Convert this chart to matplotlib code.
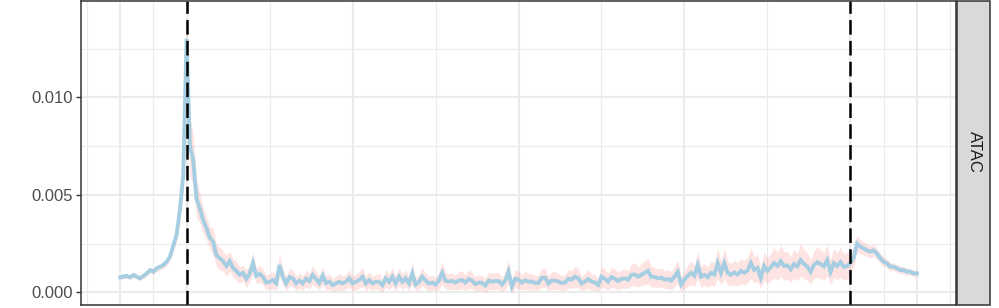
import numpy as np
import matplotlib
matplotlib.use("Agg")
import matplotlib.pyplot as plt
from matplotlib.patches import Rectangle

# ---- data (signal in units of 1e-5, one value per bin; 20 upstream bins, 200 gene-body bins, 20 downstream bins)
signal_e5 = [
    77, 82, 84, 77, 89, 80, 72, 84, 97, 114, 106, 123, 131, 140, 157, 183, 240, 295, 425, 600,
    1300, 750, 680, 480, 430, 370, 330, 280, 260, 190, 175, 160, 135, 160, 125, 110, 90, 100, 70, 95,
    150, 85, 95, 80, 50, 54, 63, 46, 140, 80, 46, 78, 72, 46, 60, 46, 70, 58, 89, 68,
    48, 85, 48, 54, 37, 46, 54, 46, 54, 72, 46, 54, 63, 80, 46, 63, 46, 54, 54, 37,
    72, 54, 80, 46, 80, 54, 72, 46, 97, 40, 54, 80, 60, 45, 50, 40, 60, 100, 60, 55,
    58, 50, 60, 63, 50, 68, 60, 42, 50, 48, 35, 60, 55, 58, 58, 40, 60, 106, 29, 70,
    65, 50, 62, 55, 55, 48, 48, 75, 75, 45, 60, 60, 55, 48, 50, 70, 65, 80, 72, 45,
    55, 68, 55, 50, 38, 80, 70, 55, 78, 70, 58, 68, 72, 65, 90, 92, 80, 90, 100, 110,
    80, 78, 72, 75, 65, 68, 60, 80, 105, 40, 65, 85, 100, 85, 140, 80, 90, 78, 100, 92,
    150, 100, 150, 100, 90, 102, 92, 110, 100, 112, 150, 115, 125, 75, 135, 110, 128, 150, 135, 160,
    135, 138, 118, 145, 133, 165, 145, 132, 105, 140, 155, 145, 133, 165, 105, 150, 135, 155, 130, 135,
    150, 180, 250, 234, 225, 215, 208, 215, 198, 174, 157, 149, 131, 131, 123, 114, 114, 106, 106, 97, 97,
]
spread_e5 = [
    10, 12, 13, 11, 14, 12, 11, 13, 15, 14, 15, 16, 15, 17, 18, 20, 25, 35, 50, 80,
    120, 150, 130, 95, 75, 65, 60, 55, 70, 55, 60, 50, 55, 52, 45, 50, 42, 40, 45, 42,
    55, 38, 45, 40, 38, 40, 45, 36, 60, 40, 36, 45, 42, 35, 40, 36, 42, 38, 48, 40,
    36, 45, 38, 40, 32, 38, 42, 38, 36, 45, 38, 40, 42, 48, 36, 40, 38, 36, 42, 34,
    45, 40, 48, 36, 45, 40, 42, 36, 55, 34, 40, 45, 42, 36, 38, 34, 42, 58, 42, 40,
    42, 38, 45, 45, 40, 48, 42, 36, 40, 38, 34, 45, 42, 45, 42, 36, 45, 60, 32, 45,
    45, 40, 45, 42, 42, 38, 38, 50, 50, 36, 45, 45, 42, 38, 40, 48, 45, 54, 50, 36,
    42, 48, 42, 40, 34, 52, 48, 42, 52, 48, 45, 48, 50, 45, 56, 60, 52, 56, 62, 66,
    52, 50, 48, 50, 45, 48, 45, 52, 62, 38, 45, 54, 60, 54, 72, 52, 56, 52, 62, 60,
    78, 62, 78, 62, 56, 62, 60, 66, 62, 66, 78, 66, 70, 52, 72, 66, 70, 78, 72, 82,
    72, 72, 66, 75, 70, 82, 75, 70, 62, 72, 78, 75, 70, 82, 62, 75, 70, 78, 66, 70,
    55, 48, 40, 36, 34, 32, 30, 32, 28, 26, 24, 22, 21, 20, 19, 19, 18, 18, 17, 16, 15,
]
marker_bins = [20, 220]          # TSS and TES
major_x = [0, 20, 70, 120, 170, 220, 240]
minor_x = [-10, 10, 45, 95, 145, 195, 230, 250]
major_y = [0.0, 0.005, 0.010]
minor_y = [0.0025, 0.0075, 0.0125]
y_labels = ["0.000", "0.005", "0.010"]
facet_label = "ATAC"

plt.rcParams['font.family'] = ['Liberation Sans', 'DejaVu Sans']
plt.rcParams['lines.scale_dashes'] = False

W, H = 999, 308
fig = plt.figure(figsize=(W / 100, H / 100), dpi=100)
ax = fig.add_axes([81 / W, 3 / H, (956 - 81) / W, (307 - 3) / H])

x = np.arange(len(signal_e5))
y = np.array(signal_e5) * 1e-5
s = np.array(spread_e5) * 1e-5

grid_c = '#EBEBEB'
for gx in minor_x:
    ax.axvline(gx, color=grid_c, lw=0.8, zorder=0)
for gy in minor_y:
    ax.axhline(gy, color=grid_c, lw=0.8, zorder=0)
for gx in major_x:
    ax.axvline(gx, color=grid_c, lw=1.5, zorder=0)
for gy in major_y:
    ax.axhline(gy, color=grid_c, lw=1.5, zorder=0)

ax.fill_between(x, y - s, y + s, color='#F8766D', alpha=0.2, lw=0, zorder=1)
ax.plot(x, y, color='#A6CEE3', lw=2.8, zorder=2, solid_joinstyle='miter')

for m in marker_bins:
    ax.axvline(m, color='black', lw=1.8, linestyle=(0, (10.5, 4.5)), zorder=3)

ax.set_xlim(-11.8, 251.8)
ax.set_ylim(-0.00065, 0.01494)
ax.set_xticks([])
ax.set_yticks(major_y)
ax.set_yticklabels(y_labels)
ax.tick_params(axis='y', length=3.5, width=1.0, color='#333333', pad=2.5,
               labelsize=12, labelcolor='#4D4D4D')
for sp in ax.spines.values():
    sp.set_color('#333333')
    sp.set_linewidth(1.1)
    sp.set_zorder(5)

# facet strip on the right
strip = Rectangle((957 / W, 3 / H), (990 - 957) / W, (307 - 3) / H,
                  transform=fig.transFigure, facecolor='#D9D9D9',
                  edgecolor='#333333', linewidth=1.1)
fig.patches.append(strip)
fig.text(974 / W, (H - 152) / H, facet_label, rotation=-90, ha='center', va='center',
         fontsize=12, color='#1A1A1A')

fig.savefig('out.png', dpi=100, facecolor='white')
